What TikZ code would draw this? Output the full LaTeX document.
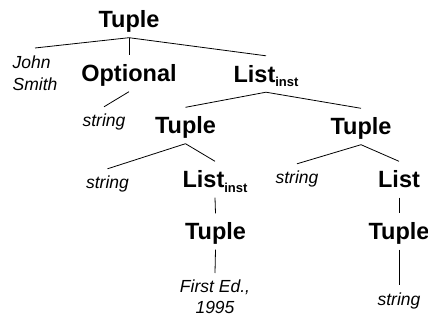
\documentclass[tikz,border=0pt]{standalone}
\usepackage{fontspec}
\setmainfont{Liberation Sans}
\newcommand{\instsub}{\raisebox{-4.5pt}{\fontsize{13}{13}\selectfont inst}}
\begin{document}
\begin{tikzpicture}[x=1pt,y=-1pt,
  big/.style={font=\fontsize{23.5}{28}\selectfont\bfseries, anchor=base, text height=22pt, text depth=5pt, inner sep=4.5pt},
  leaf/.style={font=\fontsize{17.5}{21.5}\selectfont\itshape, anchor=base, text height=15pt, text depth=4pt, inner sep=4.5pt},
  multi/.style={font=\fontsize{17.5}{21.5}\selectfont\itshape, anchor=north, inner xsep=0pt},
  edge/.style={draw, line width=0.8pt}]
\useasboundingbox (0,0) rectangle (428,320);
\node[big] (t1) at (129,28) {Tuple};
\node[multi, align=left, inner ysep=7.7pt] (js) at (35,48) {John\\Smith};
\node[big] (opt) at (129,82) {Optional};
\node[big] (l1) at (266,82.5) {List\instsub};
\node[leaf] (s1) at (104,126.5) {string};
\node[big] (t2) at (185.5,134) {Tuple};
\node[big] (t3) at (361,135) {Tuple};
\node[leaf] (s2) at (107.5,188.5) {string};
\node[big] (l2) at (215,188) {List\instsub};
\node[leaf] (s3) at (297,183.5) {string};
\node[big] (l3) at (399,188) {List};
\node[big] (t4) at (215.5,240) {Tuple};
\node[big] (t5) at (399,240) {Tuple};
\node[multi, align=center, inner ysep=6.5pt] (fe) at (215,273) {First Ed.,\\1995};
\node[leaf] (s4) at (399,305) {string};
\draw[edge] (t1.south) -- (js.north);
\draw[edge] (t1.south) -- (opt.north);
\draw[edge] (t1.south) -- (l1.north);
\draw[edge] (opt.south) -- (s1.north);
\draw[edge] (l1.south) -- (t2.north);
\draw[edge] (l1.south) -- (t3.north);
\draw[edge] (t2.south) -- (s2.north);
\draw[edge] (t2.south) -- (l2.north);
\draw[edge] (t3.south) -- (s3.north);
\draw[edge] (t3.south) -- (l3.north);
\draw[edge] (l2.south) -- (t4.north);
\draw[edge] (l3.south) -- (t5.north);
\draw[edge] (t4.south) -- (fe.north);
\draw[edge] (t5.south) -- (s4.north);
\end{tikzpicture}
\end{document}
